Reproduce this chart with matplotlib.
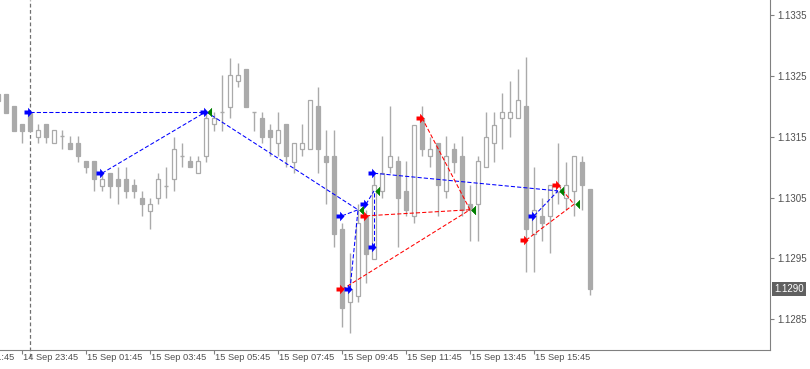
import numpy as np
import pandas as pd
import matplotlib
matplotlib.use('Agg')
import matplotlib.pyplot as plt
from matplotlib.path import Path

# 15 minute bars, first one at 14 Sep 23:00
first_bar = pd.Timestamp('2015-09-14 23:00')
bar_step = pd.Timedelta('15min')

opens = [1.13220, 1.13220, 1.13200, 1.13171, 1.13189, 1.13150, 1.13171, 1.13139, 1.13151, 1.13139,
         1.13139, 1.13110, 1.13110, 1.13069, 1.13090, 1.13080, 1.13080, 1.13070, 1.13049, 1.13028,
         1.13049, 1.13069, 1.13080, 1.13119, 1.13110, 1.13090, 1.13119, 1.13171, 1.13191, 1.13199,
         1.13241, 1.13261, 1.13191, 1.13180, 1.13161, 1.13139, 1.13171, 1.13109, 1.13129, 1.13129,
         1.13200, 1.13119, 1.13119, 1.12999, 1.12878, 1.12889, 1.13019, 1.12949, 1.13060, 1.13100,
         1.13110, 1.13060, 1.13020, 1.13180, 1.13119, 1.13139, 1.13060, 1.13129, 1.13119, 1.13039,
         1.13039, 1.13100, 1.13139, 1.13180, 1.13180, 1.13180, 1.13200, 1.12990, 1.13019, 1.13019,
         1.13059, 1.13049, 1.13060, 1.13109, 1.13064]
highs = [1.13225, 1.13220, 1.13200, 1.13171, 1.13191, 1.13171, 1.13171, 1.13161, 1.13161, 1.13151,
         1.13151, 1.13110, 1.13110, 1.13090, 1.13090, 1.13100, 1.13100, 1.13080, 1.13060, 1.13049,
         1.13090, 1.13100, 1.13150, 1.13139, 1.13119, 1.13119, 1.13191, 1.13191, 1.13251, 1.13280,
         1.13271, 1.13261, 1.13191, 1.13191, 1.13171, 1.13191, 1.13171, 1.13139, 1.13171, 1.13210,
         1.13231, 1.13161, 1.13161, 1.13009, 1.12959, 1.13039, 1.13029, 1.13087, 1.13151, 1.13200,
         1.13119, 1.13110, 1.13170, 1.13200, 1.13150, 1.13139, 1.13151, 1.13139, 1.13151, 1.13070,
         1.13119, 1.13191, 1.13191, 1.13221, 1.13241, 1.13261, 1.13281, 1.13100, 1.13049, 1.13070,
         1.13139, 1.13109, 1.13119, 1.13119, 1.13064]
lows = [1.13200, 1.13189, 1.13160, 1.13139, 1.13160, 1.13139, 1.13139, 1.13139, 1.13129, 1.13129,
        1.13109, 1.13090, 1.13060, 1.13060, 1.13049, 1.13039, 1.13049, 1.13049, 1.13019, 1.12999,
        1.13039, 1.13049, 1.13060, 1.13100, 1.13100, 1.13090, 1.13109, 1.13160, 1.13160, 1.13180,
        1.13231, 1.13199, 1.13160, 1.13139, 1.13119, 1.13119, 1.13100, 1.13090, 1.13119, 1.13129,
        1.13090, 1.13039, 1.12968, 1.12838, 1.12828, 1.12878, 1.12909, 1.12949, 1.13049, 1.13090,
        1.12968, 1.13020, 1.13009, 1.13119, 1.13100, 1.13020, 1.13049, 1.13090, 1.13020, 1.12979,
        1.12979, 1.13100, 1.13109, 1.13129, 1.13150, 1.13180, 1.12928, 1.12928, 1.12979, 1.12959,
        1.13039, 1.13030, 1.13020, 1.13030, 1.12890]
closes = [1.13209, 1.13189, 1.13160, 1.13160, 1.13160, 1.13161, 1.13150, 1.13161, 1.13151, 1.13129,
          1.13118, 1.13100, 1.13080, 1.13080, 1.13069, 1.13069, 1.13060, 1.13060, 1.13039, 1.13039,
          1.13080, 1.13069, 1.13130, 1.13119, 1.13100, 1.13110, 1.13180, 1.13180, 1.13191, 1.13251,
          1.13251, 1.13199, 1.13191, 1.13150, 1.13150, 1.13161, 1.13119, 1.13139, 1.13139, 1.13210,
          1.13129, 1.13109, 1.12990, 1.12868, 1.12899, 1.13009, 1.12957, 1.13070, 1.13090, 1.13119,
          1.13049, 1.13030, 1.13170, 1.13129, 1.13129, 1.13070, 1.13119, 1.13109, 1.13030, 1.13030,
          1.13110, 1.13150, 1.13170, 1.13191, 1.13191, 1.13210, 1.12999, 1.13030, 1.13009, 1.13070,
          1.13070, 1.13070, 1.13119, 1.13070, 1.12900]

time_tick_start = '2015-09-14 21:45'
time_tick_end = '2015-09-15 15:45'
day_separator = '2015-09-15 00:00'

price_ticks = [1.1285, 1.1295, 1.1305, 1.1315, 1.1325, 1.1335]
last_price = 1.1290

# closed trades: side, open time/price, close time/price
trade_side = ['buy', 'buy', 'buy', 'buy', 'buy', 'buy', 'buy', 'buy', 'buy',
              'sell', 'sell', 'sell', 'sell', 'sell']
open_times = ['00:00', '02:15', '05:30', '09:45', '10:00', '10:30', '10:45', '10:45', '15:45',
              '09:45', '10:30', '12:15', '15:30', '16:30']
open_prices = [1.13191, 1.13090, 1.13191, 1.13020, 1.12899, 1.13039, 1.12969, 1.13090, 1.13020,
               1.12899, 1.13020, 1.13181, 1.12980, 1.13071]
close_times = ['05:30', '05:30', '10:15', '10:15', '10:15', '10:45', '10:45', '16:30', '16:30',
               '13:45', '13:45', '13:45', '17:00', '17:00']
close_prices = [1.13191, 1.13191, 1.13030, 1.13030, 1.13030, 1.13061, 1.13061, 1.13061, 1.13061,
                1.13030, 1.13030, 1.13030, 1.13039, 1.13039]


def bar_pos(t):
    return (pd.Timestamp(t) - first_bar) / bar_step


def day15(hhmm):
    return bar_pos('2015-09-15 ' + hhmm)


candle_gray = '#aaaaaa'
axis_gray = '#808080'
text_gray = '#505050'
plt.rcParams['font.family'] = ['Liberation Sans', 'DejaVu Sans']

fig = plt.figure(figsize=(8.1, 3.69), dpi=100)
ax = fig.add_axes([0, 19 / 369, 770 / 810, 350 / 369])

o = np.array(opens)
h = np.array(highs)
l = np.array(lows)
c = np.array(closes)
x = np.arange(len(o))
w = 0.55

ax.vlines(x, l, h, color=candle_gray, lw=1.0, zorder=1)
up = c > o
dn = c < o
eq = c == o
ax.bar(x[up], c[up] - o[up], bottom=o[up], width=w, facecolor='white',
       edgecolor=candle_gray, lw=0.9, zorder=2)
ax.bar(x[dn], o[dn] - c[dn], bottom=c[dn], width=w, facecolor=candle_gray,
       edgecolor=candle_gray, lw=0.9, zorder=2)
ax.hlines(o[eq], x[eq] - w / 2, x[eq] + w / 2, color=candle_gray, lw=1.0, zorder=2)

# day separator
ax.axvline(bar_pos(day_separator), ymin=-0.02, color='#707070', lw=0.9,
           linestyle=(0, (3, 2)), clip_on=False, zorder=0)

# trade markers
arrow = Path([(0, 0), (-0.55, 0.6), (-0.55, 0.25), (-1, 0.25), (-1, -0.25),
              (-0.55, -0.25), (-0.55, -0.6), (0, 0)],
             [Path.MOVETO] + [Path.LINETO] * 6 + [Path.CLOSEPOLY])
close_tri = Path([(0, 0), (1, 1), (1, -1), (0, 0)],
                 [Path.MOVETO, Path.LINETO, Path.LINETO, Path.CLOSEPOLY])

for side, ot, op, ct, cp in zip(trade_side, open_times, open_prices, close_times, close_prices):
    col = '#0000ff' if side == 'buy' else '#ff0000'
    ax.plot([day15(ot), day15(ct)], [op, cp], color=col, lw=0.75,
            linestyle=(0, (4, 2)), zorder=3)

for side, ot, op, ct, cp in zip(trade_side, open_times, open_prices, close_times, close_prices):
    col = '#0000ff' if side == 'buy' else '#ff0000'
    ax.plot(day15(ot) + 0.2, op, marker=arrow, markersize=11.5, color=col, mec=col, mew=0, zorder=4)
    ax.plot(day15(ct) + 0.1, cp, marker=close_tri, markersize=6.5, color='#008000',
            mec='#008000', mew=0, zorder=4)

for s in ['left', 'top']:
    ax.spines[s].set_visible(False)
for s in ['right', 'bottom']:
    ax.spines[s].set_color(axis_gray)
    ax.spines[s].set_linewidth(0.8)

ax.yaxis.tick_right()
ax.set_yticks(price_ticks)
ax.set_yticklabels([f'{p:.4f}' for p in price_ticks])
ax.tick_params(axis='y', direction='out', length=3, width=0.8, color=axis_gray,
               labelcolor=text_gray, labelsize=7, pad=2)

label_times = pd.date_range(time_tick_start, time_tick_end, freq='2h')
ax.set_xticks([bar_pos(t) for t in label_times])
ax.set_xticklabels([])
ax.tick_params(axis='x', direction='out', length=3, width=0.8, color=axis_gray)
for t in label_times:
    ax.annotate(t.strftime('%d %b %H:%M'), xy=(bar_pos(t), 0),
                xycoords=('data', 'axes fraction'), xytext=(0.8, -2.5),
                textcoords='offset points', ha='left', va='top', fontsize=6.7,
                color=text_gray, annotation_clip=False)

ax.annotate(f'{last_price:.4f}', xy=(1, last_price), xycoords=('axes fraction', 'data'),
            xytext=(3, 0), textcoords='offset points', ha='left', va='center',
            fontsize=7, color='white',
            bbox=dict(boxstyle='square,pad=0.2', fc='#606060', ec='none'))

# limits last: set_xticks would widen them
ax.set_xlim(0.25, 96.5)
ax.set_ylim(1.127996, 1.133746)

fig.savefig('out.png', dpi=100)
